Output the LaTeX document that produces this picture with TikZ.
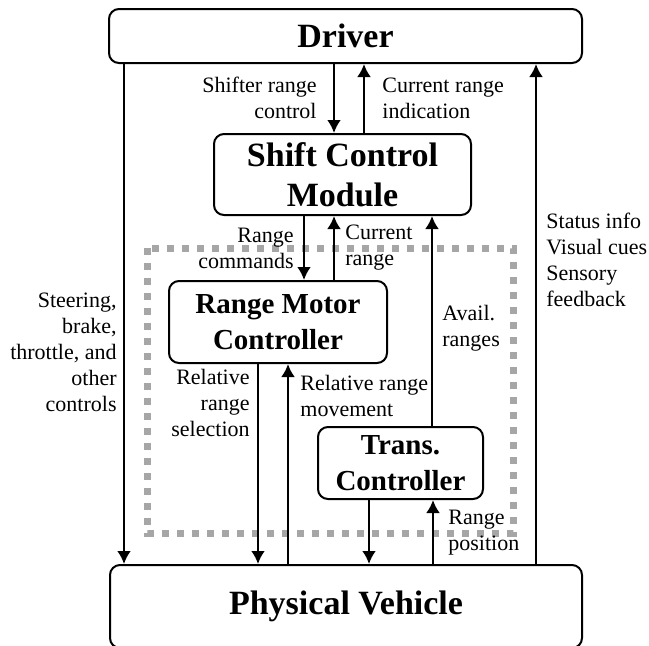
\documentclass[tikz,border=0pt]{standalone}
\usepackage{fontspec}
\setmainfont{Liberation Serif}
\usepackage{tikz}
\usetikzlibrary{arrows.meta,positioning}

\begin{document}
\begin{tikzpicture}[x=0.5pt,y=-0.5pt,
		blk/.style={draw,line width=1pt,rounded corners=5pt,align=center,inner sep=0pt,font=\bfseries\fontsize{17}{20}\selectfont},
		sblk/.style={blk,font=\bfseries\fontsize{14.5}{18}\selectfont},
		lbl/.style={font=\fontsize{11}{13}\selectfont,inner sep=0pt},
		arr/.style={line width=1.3pt,-{Latex[length=6.5pt,width=7pt]}}]
		\useasboundingbox (0,0) rectangle (649,645);
		\draw[line width=3.5pt,gray!70,dash pattern=on 3.5pt off 4pt] (147,248) rectangle (513,533);
		\node[blk,minimum width=236.5pt,minimum height=27pt] (drv) at (345.5,36) {Driver};
		\node[blk,minimum width=128.5pt,minimum height=40.5pt] (scm) at (342.5,174.5) {Shift Control\\Module};
		\node[sblk,minimum width=109pt,minimum height=41pt] (rmc) at (278,322) {Range Motor\\Controller};
		\node[sblk,minimum width=82.5pt,minimum height=36pt] (tc) at (400.5,463) {Trans.\\Controller};
		\node[blk,minimum width=236pt,minimum height=41.5pt] (pv) at (346,606.5) {Physical Vehicle};
		\draw[arr] (drv.south -| 124,0) -- (pv.north -| 124,0);
		\draw[arr] (drv.south -| 334,0) -- (scm.north -| 334,0);
		\draw[arr] (scm.north -| 364,0) -- (drv.south -| 364,0);
		\draw[arr] (pv.north -| 536,0) -- (drv.south -| 536,0);
		\draw[arr] (scm.south -| 304,0) -- (rmc.north -| 304,0);
		\draw[arr] (rmc.north -| 334,0) -- (scm.south -| 334,0);
		\draw[arr] (tc.north -| 432,0) -- (scm.south -| 432,0);
		\draw[arr] (rmc.south -| 258,0) -- (pv.north -| 258,0);
		\draw[arr] (pv.north -| 288,0) -- (rmc.south -| 288,0);
		\draw[arr] (tc.south -| 369,0) -- (pv.north -| 369,0);
		\draw[arr] (pv.north -| 433,0) -- (tc.south -| 433,0);
		\node[lbl,anchor=east,align=right] (src) at (317,98) {Shifter range\\control};
		\node[lbl,anchor=west,align=left] (cri) at (382,98) {Current range\\indication};
		\node[lbl,anchor=east,align=right] (rcm) at (294,248) {Range\\commands};
		\node[lbl,anchor=west,align=left] (crg) at (345,248) {Current\\range};
		\node[lbl,anchor=west,align=left] (avl) at (442,328) {Avail.\\ranges};
		\node[lbl,anchor=west,align=left] (sts) at (546,260) {Status info\\Visual cues\\Sensory\\feedback};
		\node[lbl,anchor=east,align=right] (ctl) at (117,352) {Steering,\\brake,\\throttle, and\\other\\controls};
		\node[lbl,anchor=east,align=right] (rrs) at (250,403) {Relative\\range\\selection};
		\node[lbl,anchor=west,align=left] (rrm) at (300,396) {Relative range\\movement};
		\node[lbl,anchor=west,align=left] (rps) at (448,533) {Range\\position};
	\end{tikzpicture}
\end{document}
